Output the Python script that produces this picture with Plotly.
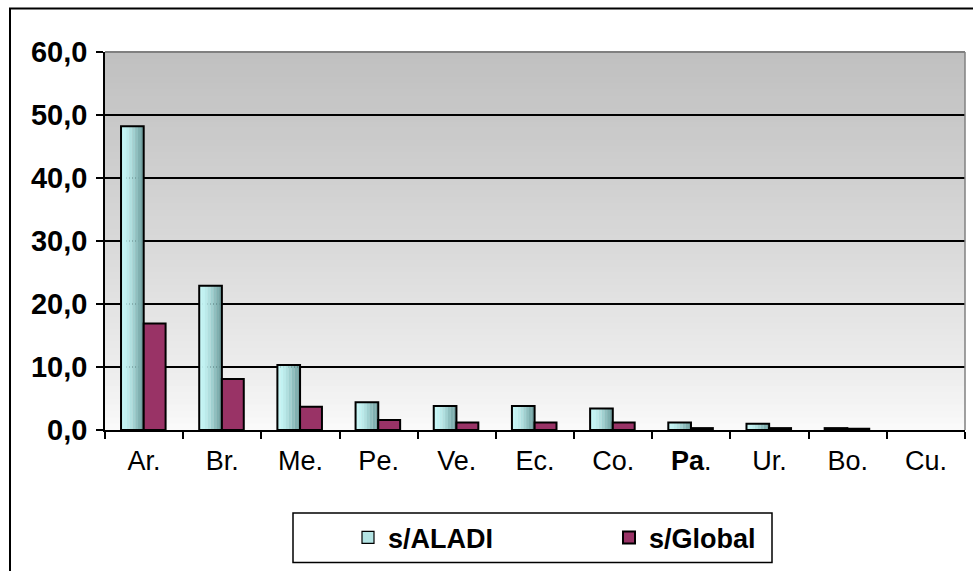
import plotly.graph_objects as go

categories = ["Ar.", "Br.", "Me.", "Pe.", "Ve.", "Ec.", "Co.", "Pa.", "Ur.", "Bo.", "Cu."]
tick_labels = ["Ar.", "Br.", "Me.", "Pe.", "Ve.", "Ec.", "Co.", "<b>Pa</b>.", "Ur.", "Bo.", "Cu."]
s_aladi = [48.2, 22.9, 10.3, 4.4, 3.8, 3.8, 3.4, 1.2, 1.0, 0.3, 0.0]
s_global = [16.9, 8.1, 3.7, 1.6, 1.2, 1.2, 1.2, 0.3, 0.3, 0.2, 0.0]
y_ticks = [0, 10, 20, 30, 40, 50, 60]

FONT = "Liberation Sans, Arial, sans-serif"

W, H = 973, 571
L, R, T, B = 105, 8, 52, 137
PW, PH = W - L - R, H - T - B


def px_x(px):
    return (px - L) / PW


def px_y(py):
    return (H - B - py) / PH


def outline_widths(vals, w):
    return [w if v > 0 else 0 for v in vals]


fig = go.Figure()

# ALADI bars: cylinder-like shading built from narrow strips
strip_colors = ["#c6f6f6", "#c2f2f2", "#bbeaea", "#b0dfdf", "#a0d0d0",
                "#8fbfbf", "#80b0b0", "#74a2a2"]
a_off, a_w = -0.295, 0.29
n = len(strip_colors)
for i, c in enumerate(strip_colors):
    fig.add_trace(go.Bar(
        x=categories, y=s_aladi, offset=a_off + i * a_w / n, width=a_w / n + 0.002,
        marker=dict(color=c, line=dict(width=0)), showlegend=False, hoverinfo="skip"))
fig.add_trace(go.Bar(
    x=categories, y=s_aladi, offset=a_off, width=a_w, name="s/ALADI",
    marker=dict(color="rgba(0,0,0,0)",
                line=dict(color="black", width=outline_widths(s_aladi, 2))),
    showlegend=False))
# legend entry for ALADI
fig.add_trace(go.Bar(
    x=[categories[0]], y=[None], name="s/ALADI",
    marker=dict(color="#b4e4e4", line=dict(color="black", width=1.2))))
fig.add_trace(go.Bar(
    x=categories, y=s_global, offset=-0.005, width=0.28, name="s/Global",
    marker=dict(color="#993366",
                line=dict(color="black", width=outline_widths(s_global, 2)))))

shapes = []
# plot-area vertical gradient (grey at top to near white at bottom)
nb = 60
for i in range(nb):
    t = i / (nb - 1)
    f = t ** 0.8
    v = int(round(0xfa + (0xc0 - 0xfa) * f))
    shapes.append(dict(type="rect", xref="x domain", yref="y domain",
                       x0=0, x1=1, y0=i / nb, y1=(i + 1) / nb + 0.002,
                       fillcolor=f"rgb({v},{v},{v})", line=dict(width=0), layer="below"))
# top/right plot border (grey)
shapes.append(dict(type="line", xref="paper", yref="paper", x0=0, x1=1, y0=1, y1=1,
                   line=dict(color="#808080", width=2)))
shapes.append(dict(type="line", xref="paper", yref="paper", x0=1, x1=1, y0=0, y1=1,
                   line=dict(color="#808080", width=1.5)))
# outer chart frame
shapes.append(dict(type="rect", xref="paper", yref="paper",
                   x0=px_x(10), x1=px_x(985), y0=px_y(590), y1=px_y(8),
                   line=dict(color="black", width=2), fillcolor="rgba(0,0,0,0)", layer="below"))
# legend frame
shapes.append(dict(type="rect", xref="paper", yref="paper",
                   x0=px_x(293), x1=px_x(772), y0=px_y(568), y1=px_y(518),
                   line=dict(color="black", width=1.5), fillcolor="white", layer="below"))

fig.update_layout(
    width=W, height=H,
    margin=dict(l=L, r=R, t=T, b=B),
    paper_bgcolor="white", plot_bgcolor="white",
    barmode="overlay",
    separators=",.",
    font=dict(family=FONT, color="black"),
    shapes=shapes,
    showlegend=True,
    legend=dict(orientation="h", x=px_x(348), y=px_y(543), xanchor="left", yanchor="middle",
                bgcolor="rgba(0,0,0,0)", borderwidth=0, entrywidth=216, entrywidthmode="pixels",
                font=dict(family=FONT, size=27, color="black", weight="bold"),
                traceorder="normal"),
    xaxis=dict(categoryorder="array", categoryarray=categories,
               tickvals=categories, ticktext=tick_labels,
               tickson="boundaries", ticks="outside", ticklen=7, tickwidth=1.5, tickcolor="black",
               showline=True, linecolor="black", linewidth=1.5, showgrid=False,
               tickfont=dict(family=FONT, size=27, color="black"), ticklabelstandoff=6,
               range=[-0.5, 10.5]),
    yaxis=dict(range=[0, 60], tickvals=y_ticks, tickformat=".1f",
               ticks="outside", ticklen=7, tickwidth=1.5, tickcolor="black",
               showline=True, linecolor="black", linewidth=1.5,
               showgrid=True, gridcolor="black", gridwidth=1.6, zeroline=False,
               tickfont=dict(family=FONT, size=29, color="black", weight="bold"),
               ticklabelstandoff=3),
)

fig.write_html("out.html")
